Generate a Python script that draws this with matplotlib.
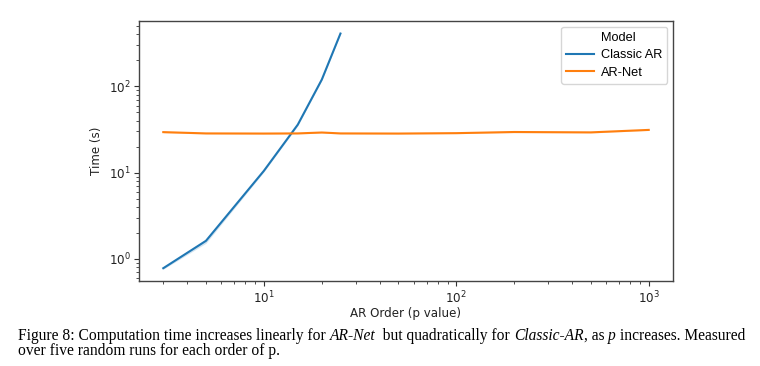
#!/usr/bin/env python3
"""Computation time vs AR order: Classic AR against AR-Net (log-log)."""

import numpy as np
import matplotlib
matplotlib.use("Agg")
import matplotlib.pyplot as plt
from matplotlib.lines import Line2D

# Classic AR timings (s) per AR order p, with a thin band over five runs
classic_p = [3, 5, 10, 15, 20, 25]
classic_time = [0.78, 1.62, 10.5, 36.0, 120.0, 410.0]
classic_low = [0.76, 1.52, 10.2, 35.0, 117.0, 402.0]
classic_high = [0.80, 1.70, 10.8, 37.0, 123.0, 418.0]

# AR-Net timings (s)
arnet_p = [3, 5, 10, 15, 20, 25, 50, 100, 200, 500, 1000]
arnet_time = [29.5, 28.5, 28.4, 28.5, 29.2, 28.5, 28.4, 28.7, 29.6, 29.3, 31.3]
arnet_low = [28.9, 28.1, 28.0, 28.1, 28.8, 28.1, 28.0, 28.3, 29.0, 28.8, 30.8]
arnet_high = [30.1, 28.9, 28.8, 28.9, 29.6, 28.9, 28.8, 29.1, 30.2, 29.8, 31.8]

series_labels = ["Classic AR", "AR-Net"]
legend_title = "Model"
x_label = "AR Order (p value)"
y_label = "Time (s)"

caption_line1 = [
    ("Figure 8: Computation time increases linearly for ", "normal"),
    ("AR-Net", "italic"),
    ("  but quadratically for ", "normal"),
    ("Classic-AR", "italic"),
    (", as ", "normal"),
    ("p", "italic"),
    (" increases. Measured", "normal"),
]
caption_line2 = [("over five random runs for each order of p.", "normal")]

BLUE = "#1f77b4"
ORANGE = "#ff7f0e"

fig = plt.figure(figsize=(7.6, 3.66), dpi=100)
ax = fig.add_axes([139 / 760, 1 - 281 / 366, (673 - 139) / 760, (281 - 21) / 366])

ax.fill_between(classic_p, classic_low, classic_high, color=BLUE, alpha=0.2, lw=0)
ax.plot(classic_p, classic_time, color=BLUE, lw=1.5)
ax.fill_between(arnet_p, arnet_low, arnet_high, color=ORANGE, alpha=0.2, lw=0)
ax.plot(arnet_p, arnet_time, color=ORANGE, lw=1.5)

ax.set_xscale("log")
ax.set_yscale("log")
ax.set_xlabel(x_label, fontsize=8.6, color="#222222", labelpad=1)
ax.set_ylabel(y_label, fontsize=8.6, color="#222222", labelpad=4)
ax.tick_params(labelsize=8.6, colors="#333333", labelcolor="#222222", length=3.5, pad=2.5)
ax.tick_params(which="minor", colors="#333333", length=2)
for s in ax.spines.values():
    s.set_color("#444444")
    s.set_linewidth(1.0)

# old seaborn style: the hue title sits as a blank legend entry
handles = [Line2D([], [], linestyle="none"),
           Line2D([], [], color=BLUE, lw=1.5),
           Line2D([], [], color=ORANGE, lw=1.5)]
leg = ax.legend(handles, [legend_title] + series_labels, loc="upper right",
                prop={"family": "Liberation Sans", "size": 9.2},
                handlelength=2.2, borderaxespad=0.45, labelspacing=0.42,
                handletextpad=0.5, borderpad=0.4, fancybox=True, framealpha=0.8)
leg.get_frame().set_edgecolor("#cccccc")


def draw_caption(pieces, x0, y0, size):
    """Place normal/italic pieces one after another on one baseline."""
    renderer = fig.canvas.get_renderer()
    x = x0
    for txt, style in pieces:
        fig.text(x / 760, 1 - y0 / 366, txt, family="Liberation Serif",
                 style=style, fontsize=size, va="baseline", ha="left")
        # measure with bars around so leading/trailing spaces count
        probe = fig.text(0, 0, "|" + txt + "|", family="Liberation Serif",
                         style=style, fontsize=size)
        bars = fig.text(0, 0, "||", family="Liberation Serif",
                        style=style, fontsize=size)
        w = (probe.get_window_extent(renderer).width
             - bars.get_window_extent(renderer).width)
        probe.remove()
        bars.remove()
        x += w


draw_caption(caption_line1, 18, 340, 11.2)
draw_caption(caption_line2, 18, 355, 11.2)

fig.savefig("out.png", dpi=100)
